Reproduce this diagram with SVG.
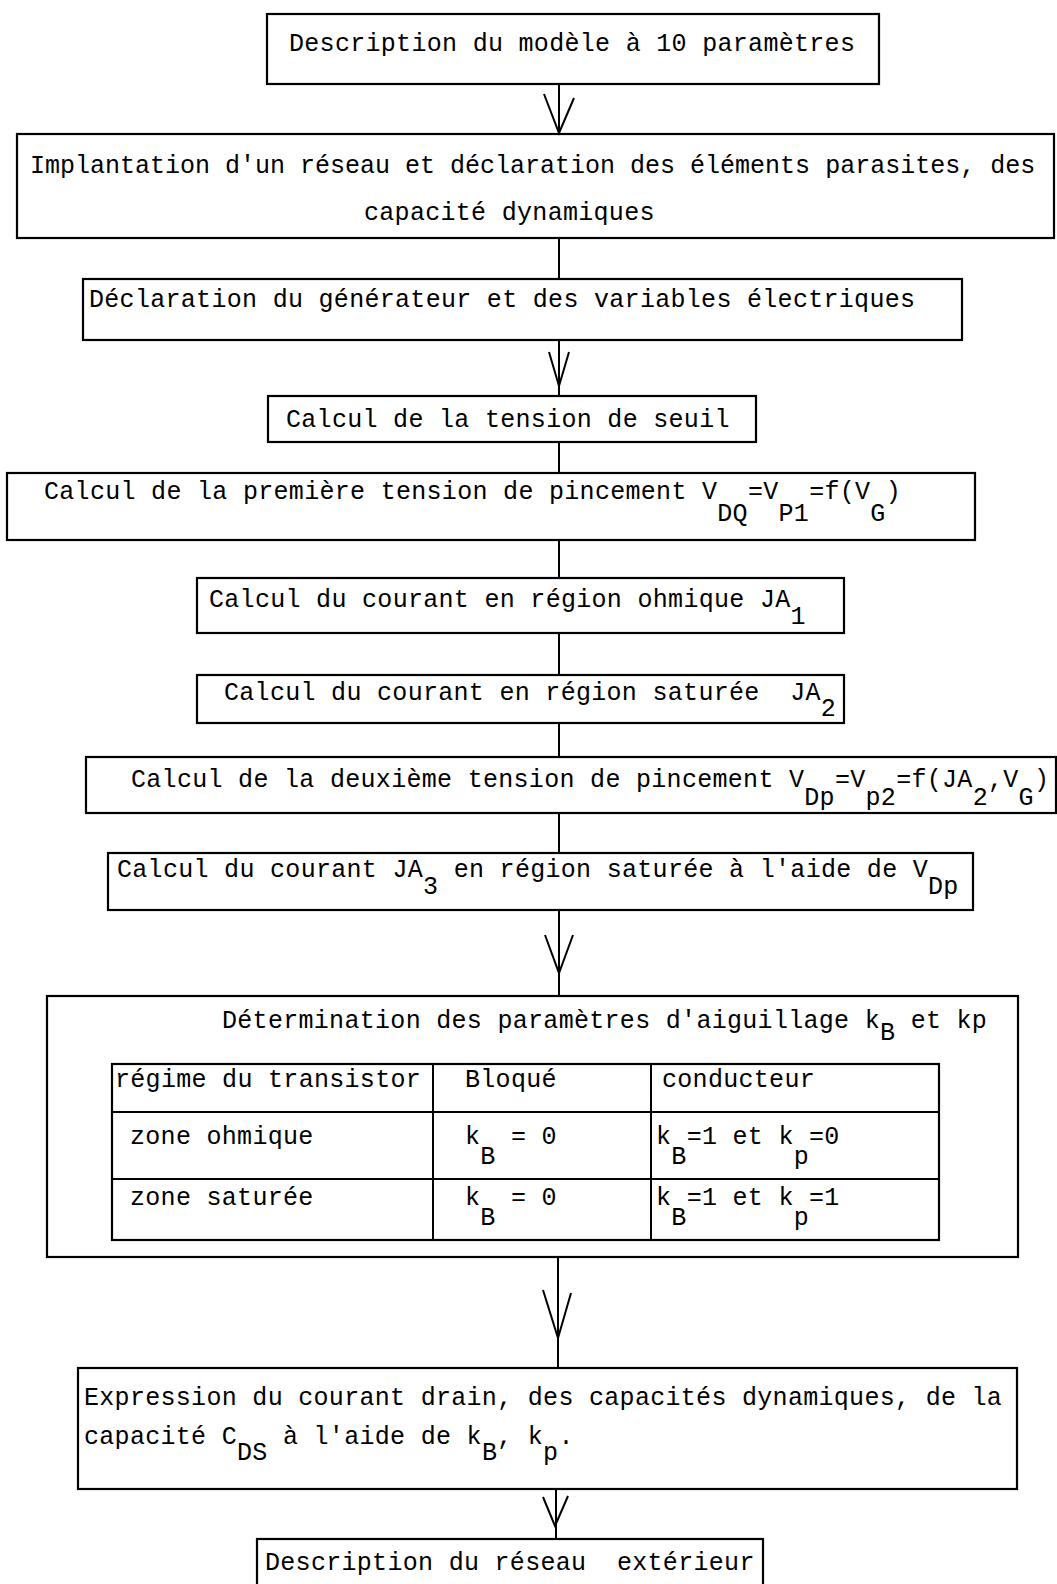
<svg xmlns="http://www.w3.org/2000/svg" width="1057" height="1584" viewBox="0 0 1057 1584">
<style>
.box{fill:none;stroke:#000;stroke-width:2.2}
.ln{fill:none;stroke:#000;stroke-width:2}
.head{fill:none;stroke:#000;stroke-width:2;stroke-linejoin:miter}
text{font-family:"Liberation Mono","DejaVu Sans Mono",monospace;font-size:25px;fill:#000;letter-spacing:0.3px;white-space:pre}
.tight{letter-spacing:0px}
</style>
<rect width="1057" height="1584" fill="#fff"/>

<g id="connectors">
  <line class="ln" x1="559" y1="84" x2="559" y2="134"/>
  <path class="head" d="M544,94 L559,133 L574,98"/>
  <line class="ln" x1="559" y1="238" x2="559" y2="279"/>
  <line class="ln" x1="559" y1="340" x2="559" y2="396"/>
  <path class="head" d="M549,352 L559,386 L569,352"/>
  <line class="ln" x1="559" y1="442" x2="559" y2="473"/>
  <line class="ln" x1="559" y1="540" x2="559" y2="578"/>
  <line class="ln" x1="559" y1="633" x2="559" y2="675"/>
  <line class="ln" x1="559" y1="723" x2="559" y2="757"/>
  <line class="ln" x1="559" y1="813" x2="559" y2="853"/>
  <line class="ln" x1="559" y1="910" x2="559" y2="996"/>
  <path class="head" d="M545,935 L559,973 L573,935"/>
  <line class="ln" x1="558" y1="1257" x2="558" y2="1368"/>
  <path class="head" d="M543,1290 L558,1338 L571,1293"/>
  <line class="ln" x1="556" y1="1489" x2="556" y2="1539"/>
  <path class="head" d="M543,1497 L555,1526 L568,1496"/>
</g>

<g id="node1">
  <rect class="box" x="267" y="14" width="612" height="70"/>
  <text x="289" y="51">Description du modèle à 10 paramètres</text>
</g>

<g id="node2">
  <rect class="box" x="17" y="134" width="1037" height="104"/>
  <text class="tight" x="30" y="173">Implantation d'un réseau et déclaration des éléments parasites, des</text>
  <text x="364" y="220">capacité dynamiques</text>
</g>

<g id="node3">
  <rect class="box" x="83" y="279" width="879" height="61"/>
  <text x="89" y="307">Déclaration du générateur et des variables électriques</text>
</g>

<g id="node4">
  <rect class="box" x="268" y="396" width="488" height="46"/>
  <text x="286" y="427">Calcul de la tension de seuil</text>
</g>

<g id="node5">
  <rect class="box" x="7" y="473" width="968" height="67"/>
  <text x="44" y="499">Calcul de la première tension de pincement V<tspan dy="22">DQ</tspan><tspan dy="-22">=V</tspan><tspan dy="22">P1</tspan><tspan dy="-22">=f(V</tspan><tspan dy="22">G</tspan><tspan dy="-22">)</tspan></text>
</g>

<g id="node6">
  <rect class="box" x="197" y="578" width="647" height="55"/>
  <text x="209" y="607">Calcul du courant en région ohmique JA<tspan dy="17">1</tspan></text>
</g>

<g id="node7">
  <rect class="box" x="197" y="675" width="647" height="48"/>
  <text x="224" y="700">Calcul du courant en région saturée  JA<tspan dy="16">2</tspan></text>
</g>

<g id="node8">
  <rect class="box" x="86" y="757" width="970" height="56"/>
  <text x="131" y="787">Calcul de la deuxième tension de pincement V<tspan dy="18">Dp</tspan><tspan dy="-18">=V</tspan><tspan dy="18">p2</tspan><tspan dy="-18">=f(JA</tspan><tspan dy="18">2</tspan><tspan dy="-18">,V</tspan><tspan dy="18">G</tspan><tspan dy="-18">)</tspan></text>
</g>

<g id="node9">
  <rect class="box" x="108" y="853" width="865" height="57"/>
  <text x="117" y="877">Calcul du courant JA<tspan dy="17">3</tspan><tspan dy="-17"> en région saturée à l'aide de V</tspan><tspan dy="17">Dp</tspan></text>
</g>

<g id="node10">
  <rect class="box" x="47" y="996" width="971" height="261"/>
  <text x="222" y="1028">Détermination des paramètres d'aiguillage k<tspan dy="12">B</tspan><tspan dy="-12"> et kp</tspan></text>
  <rect class="box" x="112" y="1064" width="827" height="176"/>
  <line class="ln" x1="112" y1="1112" x2="939" y2="1112"/>
  <line class="ln" x1="112" y1="1179" x2="939" y2="1179"/>
  <line class="ln" x1="433" y1="1064" x2="433" y2="1240"/>
  <line class="ln" x1="651" y1="1064" x2="651" y2="1240"/>
  <text x="115" y="1087">régime du transistor</text>
  <text x="465" y="1087">Bloqué</text>
  <text x="662" y="1087">conducteur</text>
  <text x="130" y="1144">zone ohmique</text>
  <text x="465" y="1144">k<tspan dy="20">B</tspan><tspan dy="-20"> = 0</tspan></text>
  <text x="656" y="1144">k<tspan dy="20">B</tspan><tspan dy="-20">=1 et k</tspan><tspan dy="20">p</tspan><tspan dy="-20">=0</tspan></text>
  <text x="130" y="1205">zone saturée</text>
  <text x="465" y="1205">k<tspan dy="20">B</tspan><tspan dy="-20"> = 0</tspan></text>
  <text x="656" y="1205">k<tspan dy="20">B</tspan><tspan dy="-20">=1 et k</tspan><tspan dy="20">p</tspan><tspan dy="-20">=1</tspan></text>
</g>

<g id="node11">
  <rect class="box" x="78" y="1368" width="939" height="121"/>
  <text x="84" y="1405">Expression du courant drain, des capacités dynamiques, de la</text>
  <text x="84" y="1444">capacité C<tspan dy="16">DS</tspan><tspan dy="-16"> à l'aide de k</tspan><tspan dy="16">B</tspan><tspan dy="-16">, k</tspan><tspan dy="16">p</tspan><tspan dy="-16">.</tspan></text>
</g>

<g id="node12">
  <rect class="box" x="257" y="1539" width="506" height="60"/>
  <text x="265" y="1570">Description du réseau  extérieur</text>
</g>
</svg>
